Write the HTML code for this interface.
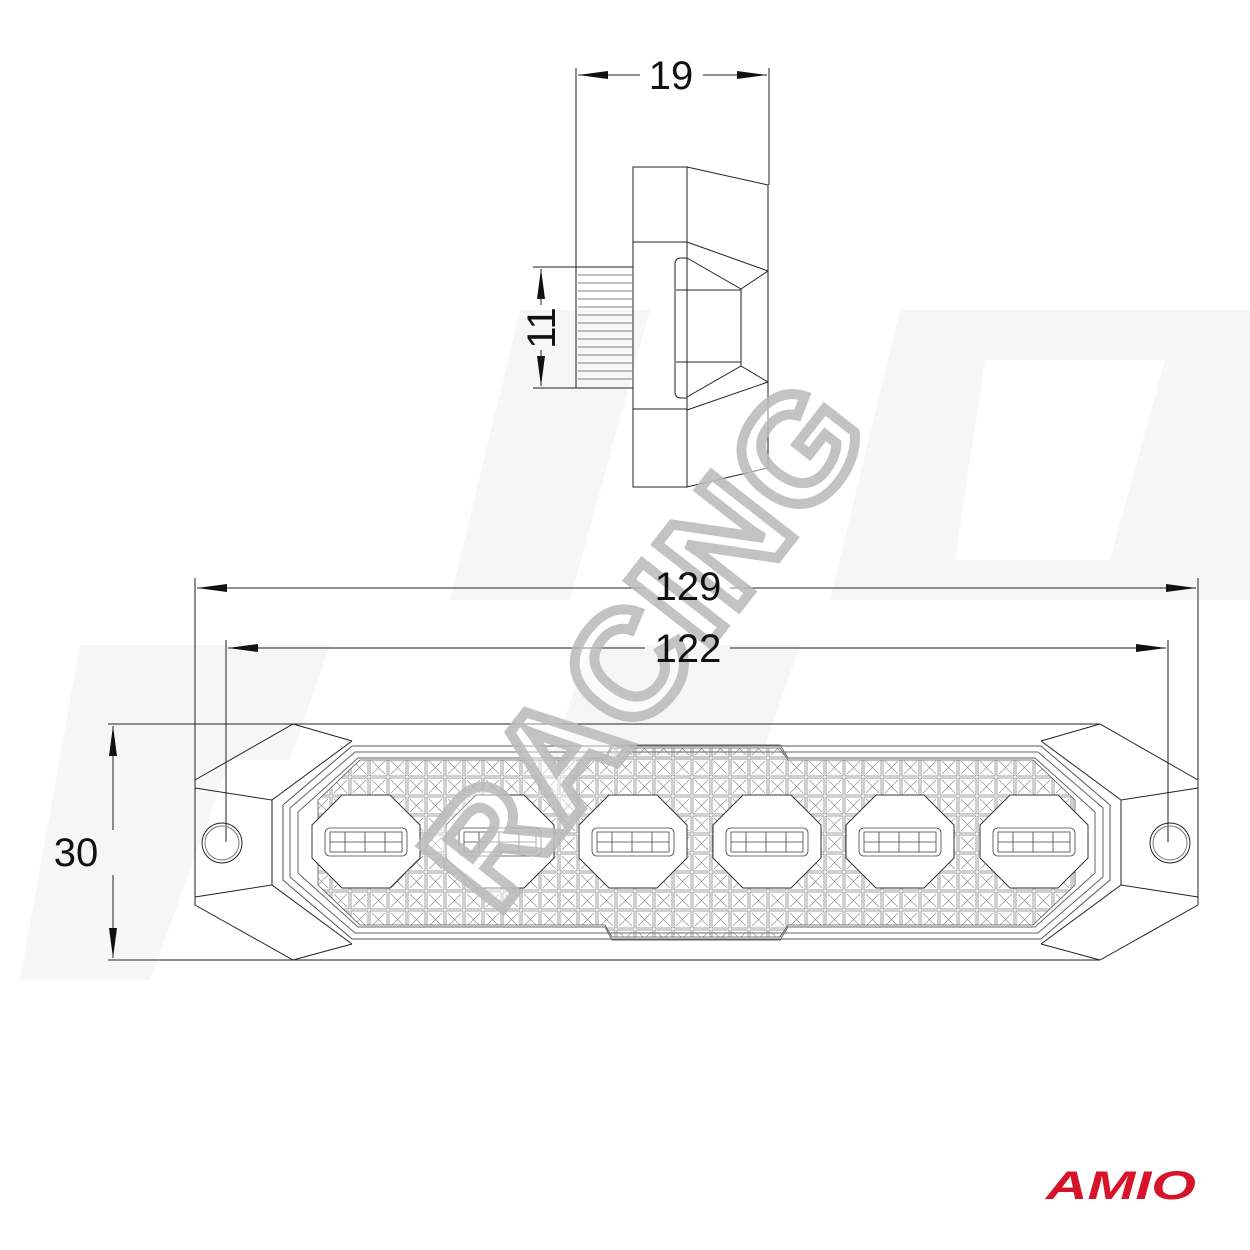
<!DOCTYPE html>
<html><head><meta charset="utf-8"><style>
html,body{margin:0;padding:0;background:#fff}
svg{display:block}
</style></head><body>
<svg width="1250" height="1250" viewBox="0 0 1250 1250" xmlns="http://www.w3.org/2000/svg" font-family="Liberation Sans, sans-serif">
<defs>
<pattern id="lat" x="350" y="758" width="19" height="19" patternUnits="userSpaceOnUse">
<rect x="1" y="1" width="17" height="17" fill="none" stroke="#777" stroke-width="0.7"/>
<path d="M3 3L16 16M16 3L3 16" stroke="#888" stroke-width="0.6"/>
</pattern>
<marker id="ar" viewBox="0 0 10 10" refX="10" refY="5" markerWidth="30" markerHeight="10" orient="auto-start-reverse" markerUnits="userSpaceOnUse" preserveAspectRatio="none"><path d="M0 1L10 5L0 9z" fill="#111"/></marker>
</defs>
<g fill="#f6f6f6">
<polygon points="520,310 650,310 570,600 450,600"/>
<polygon points="900,310 1250,310 1250,600 830,600"/>
<polygon points="80,645 330,645 290,760 230,760 150,980 20,980"/>
<polygon points="590,645 800,645 760,760 550,760"/>
</g>
<polygon points="985,360 1165,360 1110,560 955,560" fill="#fff"/>

<g stroke="#222" fill="none" stroke-width="1">
<rect x="633" y="167" width="54" height="320"/>
<polygon points="687,167 768,185 768,468 687,487"/>
<line x1="633" y1="242" x2="687" y2="242"/><line x1="633" y1="409" x2="687" y2="409"/>
<line x1="687" y1="242" x2="768" y2="271"/><line x1="687" y1="410" x2="768" y2="382"/>
<path d="M687,258 L681,258 Q675,258 675,264 L675,392 Q675,398 681,398 L687,398"/>
<polyline points="687,258 741,289 741,366 687,397"/>
<line x1="741" y1="289" x2="768" y2="271"/><line x1="741" y1="366" x2="768" y2="382"/>
<line x1="676" y1="290" x2="741" y2="290"/><line x1="676" y1="362" x2="741" y2="362"/>
<rect x="576" y="267" width="57" height="121"/>
<g stroke="#555" stroke-width="0.7">
<line x1="578" y1="275" x2="632" y2="275"/><line x1="578" y1="283" x2="632" y2="283"/><line x1="578" y1="291" x2="632" y2="291"/><line x1="578" y1="299" x2="632" y2="299"/><line x1="578" y1="307" x2="632" y2="307"/><line x1="578" y1="315" x2="632" y2="315"/><line x1="578" y1="323" x2="632" y2="323"/><line x1="578" y1="331" x2="632" y2="331"/><line x1="578" y1="339" x2="632" y2="339"/><line x1="578" y1="347" x2="632" y2="347"/><line x1="578" y1="355" x2="632" y2="355"/><line x1="578" y1="363" x2="632" y2="363"/><line x1="578" y1="371" x2="632" y2="371"/><line x1="578" y1="379" x2="632" y2="379"/>
</g>
<line x1="576" y1="68" x2="576" y2="267"/><line x1="769" y1="68" x2="769" y2="185"/>
<line x1="578" y1="75" x2="640" y2="75" marker-start="url(#ar)"/><line x1="703" y1="75" x2="767" y2="75" marker-end="url(#ar)"/>
<line x1="533" y1="267" x2="576" y2="267"/><line x1="533" y1="388" x2="576" y2="388"/>
<line x1="541" y1="269" x2="541" y2="305" marker-start="url(#ar)"/><line x1="541" y1="350" x2="541" y2="386" marker-end="url(#ar)"/>
<line x1="195" y1="578" x2="195" y2="815"/><line x1="1198" y1="578" x2="1198" y2="812"/>
<line x1="197" y1="588" x2="645" y2="588" marker-start="url(#ar)"/><line x1="730" y1="588" x2="1196" y2="588" marker-end="url(#ar)"/>
<line x1="226" y1="640" x2="226" y2="842"/><line x1="1168" y1="640" x2="1168" y2="842"/>
<line x1="228" y1="648" x2="645" y2="648" marker-start="url(#ar)"/><line x1="730" y1="648" x2="1166" y2="648" marker-end="url(#ar)"/>
<line x1="108" y1="724" x2="1100" y2="724"/><line x1="108" y1="960" x2="530" y2="960"/>
<line x1="113" y1="726" x2="113" y2="830" marker-start="url(#ar)"/><line x1="113" y1="875" x2="113" y2="958" marker-end="url(#ar)"/>
<polygon points="195,780 293,724 1100,724 1198,780 1198,905 1100,960 293,960 195,905"/>
<polyline points="195,788 272,800 272,885 195,897" />
<polyline points="1198,788 1121,800 1121,885 1198,897" />
<line x1="272" y1="800" x2="352" y2="741"/><line x1="272" y1="885" x2="352" y2="944"/>
<line x1="1121" y1="800" x2="1041" y2="741"/><line x1="1121" y1="885" x2="1041" y2="944"/>
<line x1="293" y1="724" x2="352" y2="741"/><line x1="293" y1="960" x2="352" y2="944"/>
<line x1="1100" y1="724" x2="1041" y2="741"/><line x1="1100" y1="960" x2="1041" y2="944"/>
<polygon points="283,805 352,746 1041,746 1110,805 1110,880 1041,939 352,939 283,880" stroke="#555"/>
<polygon points="290,808 355,752 1038,752 1103,808 1103,877 1038,933 355,933 290,877" stroke="#666"/>
<polygon points="298,812 358,758 605,758 612,745 780,745 788,758 1035,758 1095,812 1095,873 1035,927 788,927 780,940 612,940 605,927 358,927 298,873" stroke="#666"/>
<circle cx="222" cy="843" r="20"/><circle cx="222" cy="843" r="17" stroke="#777"/>
<circle cx="1170" cy="843" r="20"/><circle cx="1170" cy="843" r="17" stroke="#777"/>
</g>
<polygon points="318,800 360,760 605,760 612,748 780,748 788,760 1033,760 1075,800 1075,885 1033,925 788,925 780,937 612,937 605,925 360,925 318,885" fill="url(#lat)" stroke="#555" stroke-width="0.8"/>
<g stroke="#333" stroke-width="1" fill="#fff">
<polygon points="342,795 390,795 420,825 420,858 390,888 342,888 312,858 312,825"/>
<polygon points="476,795 524,795 554,825 554,858 524,888 476,888 446,858 446,825"/>
<polygon points="609,795 657,795 687,825 687,858 657,888 609,888 579,858 579,825"/>
<polygon points="743,795 791,795 821,825 821,858 791,888 743,888 713,858 713,825"/>
<polygon points="876,795 924,795 954,825 954,858 924,888 876,888 846,858 846,825"/>
<polygon points="1010,795 1058,795 1088,825 1088,858 1058,888 1010,888 980,858 980,825"/>
</g>
<g stroke="#444" stroke-width="0.8" fill="none">
<g id="led"><rect x="325" y="828" width="82" height="28" rx="5"/><rect x="330" y="832" width="72" height="20"/><line x1="345" y1="832" x2="345" y2="852"/><line x1="365" y1="832" x2="365" y2="852"/><line x1="385" y1="832" x2="385" y2="852"/><line x1="330" y1="842" x2="402" y2="842"/></g>
<use href="#led" x="134"/><use href="#led" x="267"/><use href="#led" x="401"/><use href="#led" x="534"/><use href="#led" x="668"/>
</g>
<text x="0" y="0" transform="translate(655,650) rotate(-52)" text-anchor="middle" dominant-baseline="middle" font-size="150" font-weight="bold" fill="#fff" fill-opacity="0.45" stroke="#b8b8b8" stroke-opacity="0.85" stroke-width="10" letter-spacing="4">RACING</text>
<g fill="#111" font-size="40">
<text x="671" y="89" text-anchor="middle">19</text>
<text transform="translate(555,328) rotate(-90)" text-anchor="middle">11</text>
<text x="688" y="600" text-anchor="middle">129</text>
<text x="688" y="662" text-anchor="middle">122</text>
<text x="76" y="866" text-anchor="middle">30</text>
</g>
<text x="1046" y="1199" font-size="40" font-weight="bold" font-style="italic" fill="#d7132a" textLength="150" lengthAdjust="spacingAndGlyphs">AMIO</text>
</svg>
</body></html>
